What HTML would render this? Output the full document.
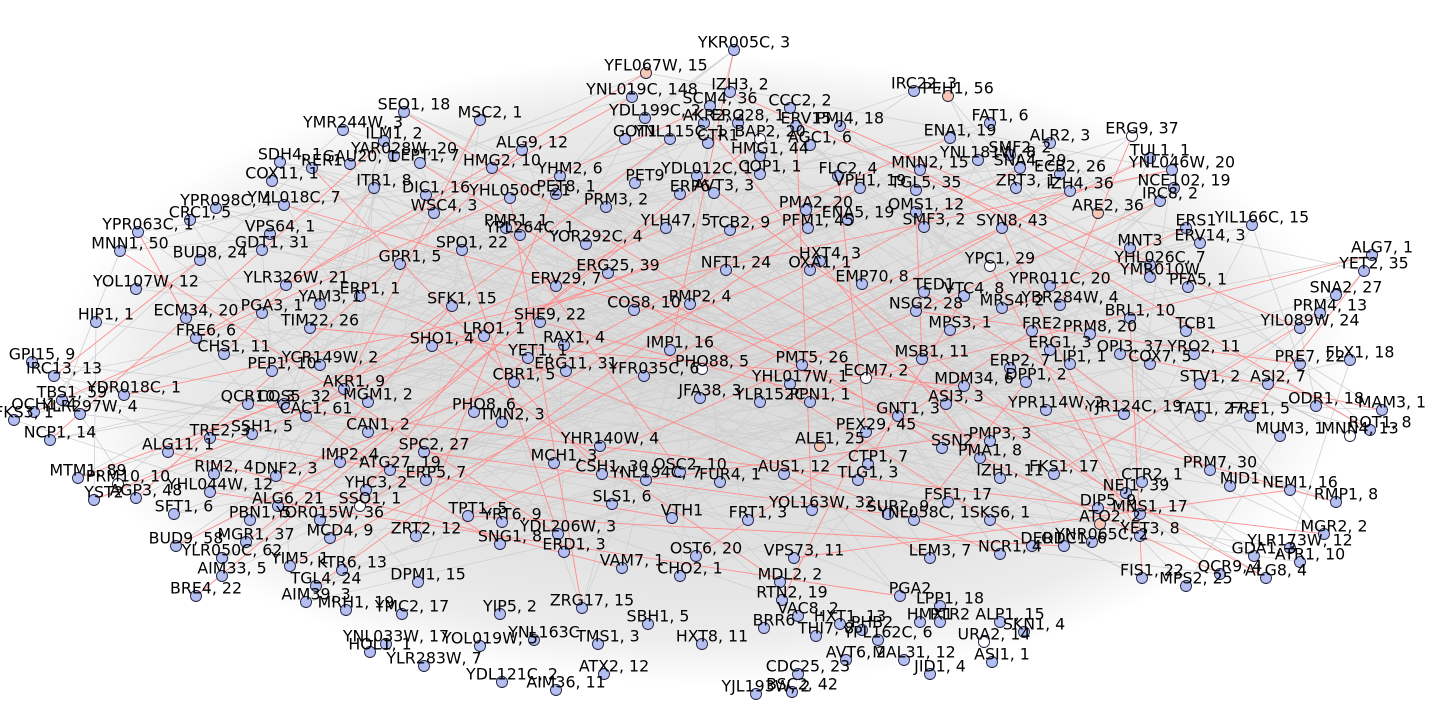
<!DOCTYPE html>
<html><head><meta charset="utf-8"><style>
html,body{margin:0;padding:0;background:#fff;width:1440px;height:720px;overflow:hidden}
svg text{font-family:"DejaVu Sans","Liberation Sans",sans-serif;font-size:15.8px;fill:#000;text-anchor:middle;dominant-baseline:central}
</style></head><body>
<svg id="net" width="1440" height="720" viewBox="0 0 1440 720" xmlns="http://www.w3.org/2000/svg">
<defs><radialGradient id="dens" cx="50%" cy="50%" r="50%">
<stop offset="0" stop-color="#dadada"/><stop offset="0.55" stop-color="#e0e0e0"/><stop offset="0.85" stop-color="#ececec"/><stop offset="1" stop-color="#ffffff"/></radialGradient></defs>
<ellipse cx="705" cy="370" rx="650" ry="315" fill="url(#dens)"/>
<g id="edges"></g><g id="nodes"></g><g id="labels"></g>
</svg>
<script>
const nodeLabels=["YFL067W, 15","YKR005C, 3","IZH3, 2","IRC22, 3","PEH1, 56","YNL019C, 148","SCM4, 36","CCC2, 2","SEO1, 18","MSC2, 1","YDL199C, 2","AKR2, 2","ERG28, 1","ERV15","PMJ4, 18","FAT1, 6","YMR244W, 3","ILM1, 2","GOT1","YNL115C, 1","CTR1","BAP2, 20","AGC1, 6","ENA1, 19","ALR2, 3","ERG9, 37","YAR028W, 20","ALG9, 12","SMF2, 2","TUL1, 1","SDH4, 1","RER1","GAU20, 1","EPT1, 7","HMG2, 10","HMG1, 44","MNN2, 15","YNL181W, 8","SNA4, 29","ECB2, 26","YNL046W, 20","COX11, 1","YHM2, 6","PET9","YDL012C, 1","COP1, 1","FLC2, 4","ZRT3, 1","IZH4, 36","NCE102, 19","ITR1, 8","DIC1, 16","YHL050C, 21","PET8, 1","ERP6","AVT3, 3","VPH1, 19","TGL5, 35","YML018C, 7","WSC4, 3","PMR1, 1","PRM3, 2","PFM1, 45","PMA2, 20","ENA5, 19","OMS1, 12","SMF3, 2","SYN8, 43","ARE2, 36","IRC8, 2","YPR098C, 4","CRC1, 5","YPR063C, 1","VPS64, 1","YPL264C, 1","YLH47, 5","TCB2, 9","YOR292C, 4","ERS1","YIL166C, 15","MNN1, 50","GDT1, 31","SPO1, 22","ERV14, 3","BUD8, 24","GPR1, 5","HXT4, 3","YPC1, 29","YHL026C, 7","MNT3","ALG7, 1","NFT1, 24","OXA1, 1","YMR010W","ERG25, 39","YET2, 35","YOL107W, 12","YLR326W, 21","EMP70, 8","TED1","VTC4, 8","YPR011C, 20","PFA5, 1","SNA2, 27","ERP1, 1","YAM3, 1","SFK1, 15","ERV29, 7","NSG2, 28","MRS4, 2","YBR284W, 4","PRM4, 13","ECM34, 20","PGA3, 1","COS8, 10","PMP2, 4","BRL1, 10","HIP1, 1","SHE9, 22","YIL089W, 24","FRE6, 6","TIM22, 26","MPS3, 1","FRE2","PRM8, 20","TCB1","LRO1, 1","GPI15, 9","IRC13, 13","CHS1, 11","SHO1, 4","RAX1, 4","IMP1, 16","ERG1, 3","OPI3, 37","YRO2, 11","FLX1, 18","PRE7, 22","PEP1, 10","YCR149W, 2","YET1, 1","MSB1, 11","CBR1, 5","ERG11, 31","PHO88, 5","PMT5, 26","ERP2, 7","LIP1, 1","COX7, 5","YDR018C, 1","QCR10, 3","AKR1, 9","YFR035C, 6","ECM7, 2","YHL017W, 1","DPP1, 2","STV1, 2","ASI2, 7","MDM34, 6","TBS1, 59","OCH1, 4","COS5, 32","MGM1, 2","FKS3, 1","YLR297W, 4","JFA38, 3","YLR152C","PPN1, 1","ASI3, 3","YPR114W, 2","YJR124C, 19","TAT1, 27","ODR1, 18","MAM3, 1","NCP1, 14","PHO8, 6","TRE2, 3","CAC1, 61","FRE1, 5","MUM3, 1","MNN4, 13","ROT1, 8","SSH1, 5","ALG11, 1","TMN2, 3","CAN1, 2","GNT1, 3","PEX29, 45","ALE1, 25","SSN2","PMP3, 3","PMA1, 8","YHR140W, 4","SPC2, 27","MCH1, 3","CSH1, 30","OSC2, 10","AUS1, 12","CTP1, 7","TLG1, 3","IZH1, 11","FKS1, 17","CTR2, 1","PRM7, 30","MID1","NEM1, 16","RMP1, 8","MTM1, 89","PRM10, 10","RIM2, 4","DNF2, 3","IMP2, 4","ATG27, 19","YNL194C, 7","FUR4, 1","YST2","AGP3, 48","YHL044W, 12","ERP5, 7","YHC3, 2","NEJ1, 39","SFT1, 6","ALG6, 21","SSO1, 1","TPT1, 5","PBN1, 5","YOR015W, 36","YRT6, 9","YOL163W, 32","SUR2, 9","FSF1, 17","DIP5, 9","MNS1, 17","ZRT2, 12","YDL206W, 3","SLS1, 6","VTH1","FRT1, 3","YNL058C, 1","SKS6, 1","ATO2, 2","YET3, 8","YLR173W, 12","MCD4, 9","BUD9, 58","MGR1, 37","SNG1, 8","ERD1, 3","NCR1, 4","YNR065C, 2","MGR2, 2","YLR050C, 62","YIM5, 1","KTR6, 13","VPS73, 11","OST6, 20","GDA1, 3","ATR1, 10","DER1","ODC1, 6","LEM3, 7","QCR9, 4","ALG8, 4","FIS1, 22","VAM7, 1","CHO2, 1","MDL2, 2","AIM33, 5","TGL4, 24","DPM1, 15","ZRG17, 15","PGA2","MPS2, 25","BRE4, 22","AIM39, 3","RTN2, 19","LPP1, 18","MRH1, 19","YMC2, 17","YIP5, 2","VAC8, 2","SKN1, 4","HXT1, 13","HMX1","PTR2","ALP1, 15","BRR6","THI7, 8","YPL162C, 6","PHB2","URA2, 14","YNL033W, 17","YOL019W, 5","YNL163C","TMS1, 3","HXT8, 11","SBH1, 5","HOL1, 1","MAL31, 12","ASI1, 1","AVT6, 2","YLR283W, 7","JID1, 4","ATX2, 12","CDC25, 23","YDL121C, 2","AIM36, 11","BSC2, 42","YJL193W, 2"];
const nodeX=[656,744,740,924,958,642,720,800,414,490,655,714,748,806,850,1000,353,394,635,680,718,770,820,960,1060,1142,404,532,1020,1160,290,322,360,430,502,770,930,988,1030,1070,1182,282,570,645,707,770,848,1026,1080,1184,384,436,520,566,690,724,870,926,294,444,516,616,818,816,858,926,934,1012,1108,1170,226,200,148,280,530,676,740,596,1196,1262,130,272,472,1210,210,410,830,1000,1160,1140,1382,736,820,1160,618,1374,146,296,872,934,974,1060,1198,1346,370,330,462,566,926,1012,1070,1330,196,272,644,700,1140,106,550,1310,206,320,960,1042,1100,1196,494,42,64,234,442,574,680,1060,1130,1204,1360,1310,282,330,538,932,524,576,712,812,1020,1080,1160,134,258,354,654,876,800,1036,1210,1278,974,72,44,294,378,24,90,710,770,820,956,1056,1134,1210,1326,1392,60,484,220,316,1260,1290,1360,1380,262,178,512,378,908,876,830,952,1000,990,610,434,564,612,690,794,878,868,1010,1064,1152,1220,1240,1300,1346,88,128,224,286,350,400,656,730,104,146,220,436,376,1136,184,288,370,478,260,330,512,822,898,958,1108,1150,426,568,622,682,758,924,1000,1110,1150,1300,340,186,256,510,574,1010,1102,1334,232,300,352,804,706,1264,1310,1042,1074,940,1230,1276,1152,632,690,790,232,326,428,592,910,1196,206,316,792,950,356,412,510,808,1034,850,930,950,1010,774,826,888,872,994,396,490,544,608,712,658,380,914,1002,856,434,940,614,808,512,566,802,766];
const nodeY=[65,42,84,83,88,89,98,100,104,112,110,115,115,118,118,115,122,133,131,131,135,131,137,130,135,128,148,142,147,150,154,160,156,155,160,148,162,152,160,166,162,173,168,175,168,166,168,180,183,180,180,187,190,186,186,185,180,182,197,205,220,199,220,202,212,204,219,220,205,193,200,212,224,226,227,220,222,236,220,217,243,242,242,235,252,256,253,258,257,240,247,262,262,269,265,263,281,277,276,284,288,278,279,287,288,296,298,278,303,300,297,305,310,305,302,296,310,314,314,320,330,320,322,323,326,323,328,354,368,346,338,337,342,342,346,346,352,356,363,357,350,351,374,363,361,357,360,356,356,387,396,381,368,370,376,374,376,376,378,392,404,396,394,412,406,390,394,394,396,402,406,408,398,402,432,404,430,408,408,428,428,422,426,444,414,424,408,424,438,440,433,450,438,444,455,466,464,466,456,472,470,466,474,462,478,482,494,470,476,466,468,454,462,472,474,492,490,484,472,482,485,506,498,498,508,512,512,514,502,506,494,500,506,528,526,496,510,512,512,512,516,528,540,530,538,534,536,544,546,534,526,550,558,562,550,548,548,554,538,538,550,566,570,570,560,568,574,568,578,574,600,588,578,588,594,592,598,602,606,606,608,624,616,614,614,614,620,628,632,622,634,636,638,632,636,636,616,644,652,654,652,658,666,666,666,674,682,684,686];
// node category: 0 = lavender, 1 = white, 2 = peach
const nodeKind=[2,0,0,0,2,0,0,0,0,0,0,0,0,0,0,0,0,0,0,0,0,1,0,0,0,1,0,0,0,0,0,0,0,0,0,0,0,0,0,0,0,0,0,0,0,0,0,0,0,0,0,0,0,0,0,0,0,0,0,0,0,0,0,0,0,0,0,0,2,0,0,0,0,0,0,0,0,0,0,0,0,0,0,0,0,0,0,1,0,0,0,0,0,0,0,0,0,0,0,0,0,0,0,0,0,0,0,0,0,0,0,0,0,0,0,0,0,0,0,0,0,0,0,0,0,0,0,0,0,0,0,0,0,0,0,0,0,0,0,0,0,0,0,0,1,0,0,0,0,0,0,0,0,1,0,0,0,0,0,0,0,0,0,0,0,0,0,0,0,0,0,0,0,0,0,0,0,0,0,0,1,0,0,0,0,0,0,0,2,0,0,0,0,0,0,0,0,0,0,0,0,0,0,0,0,0,0,0,1,0,0,0,0,0,0,0,0,0,0,0,0,0,0,1,0,0,0,0,0,0,0,0,0,0,0,0,0,0,0,0,2,0,0,0,0,0,0,0,0,0,0,0,0,0,0,0,0,0,0,0,0,0,0,0,0,0,0,0,0,0,0,0,0,0,0,0,0,0,0,0,0,0,0,0,0,0,0,0,0,0,1,0,0,0,0,0];
const grayEdges="0-40 0-96 1-150 2-200 3-120 4-250 5-80 6-230 7-181 8-170 9-210 10-260 11-140 12-190 13-100 14-220 15-60 16-160 17-245 18-175 19-130 20-265 21-95 22-205 23-84 24-215 25-150 26-181 27-240 28-70 29-200 30-135 31-190 32-255 33-145 34-225 35-270 36-110 37-161 38-80 39-235 40-118 41-170 42-262 43-184 44-214 45-274 46-124 47-221 48-96 49-166 50-253 51-155 52-206 53-247 54-198 55-264 56-112 57-236 58-187 59-223 60-183 61-271 62-128 63-233 64-151 65-259 66-180 67-125 68-212 69-141 70-171 71-219 72-162 73-201 74-258 75-229 76-246 77-269 78-174 79-137 81-147 82-234 83-182 85-192 86-261 87-134 88-213 89-178 91-224 92-267 93-165 94-241 97-143 98-251 99-194 101-211 103-168 104-231 105-208 106-275 107-186 108-239 109-152 111-158 113-203 114-256 115-196 116-227 117-191 119-172 121-228 122-202 123-266 126-244 127-188 129-232 131-218 132-263 133-199 136-242 138-207 139-173 142-252 144-237 146-195 148-222 149-257 153-248 154-268 156-217 157-243 159-197 163-226 164-249 167-209 169-238 176-254 177-216 179-272 185-230 189-204 193-240 195-276 200-120 210-90 220-40 230-16 240-79 250-8 260-103 270-1 1-60 2-171 3-245 4-101 5-222 6-191 7-52 8-139 9-233 10-177 11-250 12-160 13-72 14-205 15-131 16-99 17-267 18-148 19-209 20-157 21-272 22-113 23-203 24-181 25-196 26-121 27-255 28-162 29-184 30-115 31-228 32-197 33-270 34-146 35-217 36-130 37-254 38-176 39-208 41-224 42-187 43-262 44-166 45-119 46-235 47-173 48-214 49-198 50-151 51-266 52-109 53-231 54-97 55-248 56-180 57-223 58-132 59-260 61-138 62-244 63-143 64-256 65-170 66-229 67-152 68-219 69-186 70-126 71-240 73-206 74-271 75-163 76-213 77-200 78-236 79-211 80-159 81-252 82-133 83-194 84-264 85-141 86-174 87-226 88-182 89-202 90-168 91-257 92-137 93-247 94-218 95-232 96-145 98-190 100-241 102-175 103-258 104-135 105-227 106-167 107-263 108-212 110-199 111-246 112-165 114-179 116-253 117-215 118-134 120-269 122-189 123-201 124-234 125-221 127-243 128-237 129-172 136-274 140-193 142-220 144-251 147-204 149-242 150-275 153-259 154-185 155-238 156-265 158-225 161-230 164-216 169-268 176-207 178-239 183-261",
redEdges="0-120 2-93 5-97 6-160 8-189 11-200 14-119 17-174 21-245 25-110 27-216 33-258 36-181 40-149 44-232 48-165 52-270 56-142 60-196 63-207 67-220 72-112 80-234 84-128 87-241 91-262 95-178 100-199 104-248 108-137 115-223 118-190 123-255 130-266 134-173 140-226 147-203 150-250 155-238 161-246 170-213 176-236 183-264 187-275 193-229 197-260 205-254 211-244 217-271 224-259 1-132 9-151 13-228 19-177 23-215 29-144 31-195 38-252 42-233 46-187 50-129 54-273 58-206 62-268 65-141 69-224 75-183 78-167 82-247 86-210 90-153 94-261 99-170 106-222 111-201 116-263 121-158 126-243";
function nx(i){return nodeX[i];} function ny(i){return nodeY[i];}
const NS="http://www.w3.org/2000/svg";
const eg=document.getElementById('edges'),ng=document.getElementById('nodes'),lg=document.getElementById('labels');
function drawEdges(str,color,w,name){
 str.split(' ').forEach(p=>{const [a,b]=p.split('-').map(Number);
  if(nodeX[a]===undefined||nodeX[b]===undefined)return;
  const l=document.createElementNS(NS,'line');
  l.setAttribute('x1',nx(a)-10);l.setAttribute('y1',ny(a)+8);l.setAttribute('x2',nx(b)-10);l.setAttribute('y2',ny(b)+8);
  l.setAttribute('stroke',color);l.setAttribute('stroke-width',w);
  
  
  eg.appendChild(l);});
}
drawEdges(grayEdges,'#d0d0d0',0.8,'gray-edge');
drawEdges(redEdges,'#ff8c8c',0.9,'red-edge');
const fills=['#b3bff0','#ffffff','#f6c7b4'];
nodeLabels.forEach((t,i)=>{
 const c=document.createElementNS(NS,'circle');
 c.setAttribute('cx',nx(i)-10);c.setAttribute('cy',ny(i)+8);c.setAttribute('r',5.5);
 c.setAttribute('fill',fills[nodeKind[i]||0]);c.setAttribute('stroke','#1a1a3a');c.setAttribute('stroke-width',0.9);
 
 
 ng.appendChild(c);
 const tx=document.createElementNS(NS,'text');
 tx.setAttribute('x',nx(i));tx.setAttribute('y',ny(i));tx.textContent=t;
 
 
 lg.appendChild(tx);
});
</script>
</body></html>
